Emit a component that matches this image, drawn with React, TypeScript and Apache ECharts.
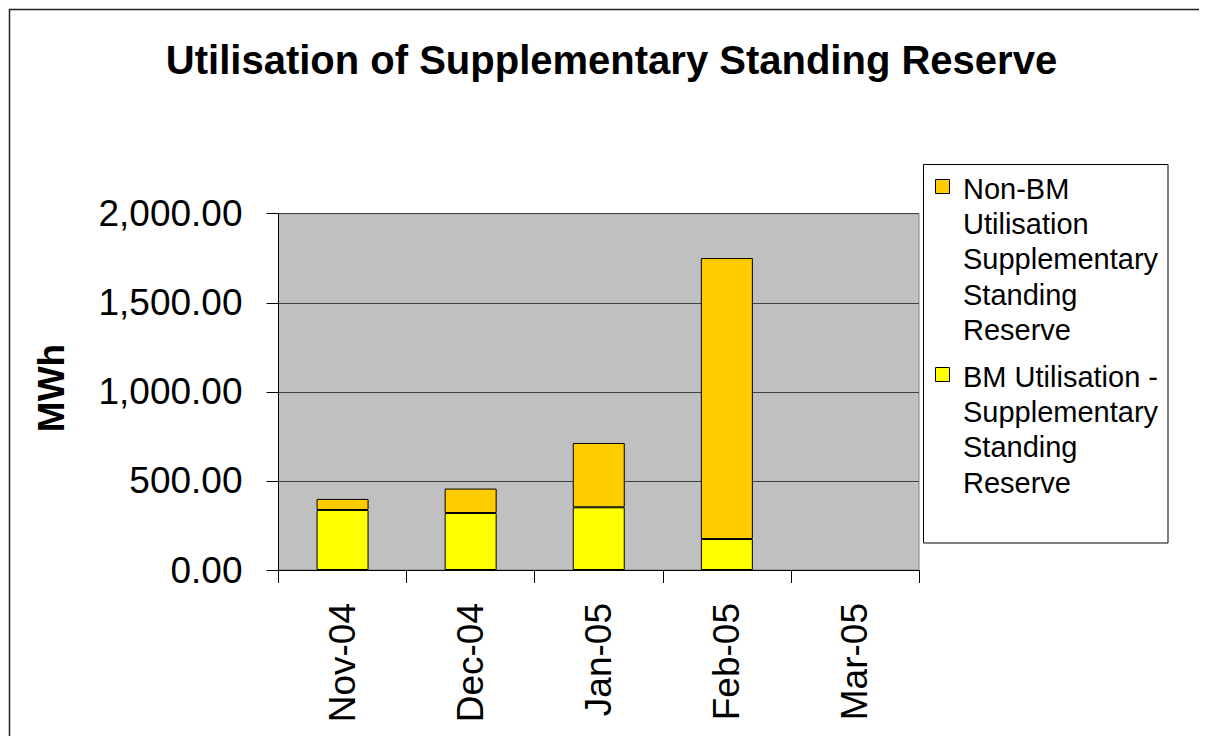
import React, { useEffect, useRef } from "react";
import * as echarts from "echarts";

const categories = ["Nov-04", "Dec-04", "Jan-05", "Feb-05", "Mar-05"];
const bmUtilisation = [337, 320, 352, 174, 0];
const nonBmUtilisation = [62, 137, 361, 1577, 0];
const seriesNames = [
  "Non-BM Utilisation Supplementary Standing Reserve",
  "BM Utilisation - Supplementary Standing Reserve",
];
const legendLines = [
  ["Non-BM", "Utilisation", "Supplementary", "Standing", "Reserve"],
  ["BM Utilisation -", "Supplementary", "Standing", "Reserve"],
];
const titleText = "Utilisation of Supplementary Standing Reserve";
const yAxisTitle = "MWh";

const FONT = "'Liberation Sans', Arial, Helvetica, sans-serif";
const ORANGE = "#FFCC00";
const YELLOW = "#FFFF00";

const hideZero = (arr: number[]) => arr.map((v) => (v === 0 ? null : v));

export default function App() {
  const ref = useRef<HTMLDivElement>(null);
  useEffect(() => {
    if (!ref.current) return;
    document.documentElement.style.overflow = "hidden";
    const chart = echarts.init(ref.current, undefined, { renderer: "svg" });
    const option: any = {
      animation: false,
      backgroundColor: "#FFFFFF",
      textStyle: { fontFamily: FONT },
      grid: {
        left: 270.5,
        top: 205.7,
        width: 640.5,
        height: 356.3,
        show: true,
        backgroundColor: "#C0C0C0",
        borderColor: "#808080",
        borderWidth: 1,
      },
      xAxis: {
        type: "category",
        data: categories,
        boundaryGap: true,
        axisLine: { show: true, lineStyle: { color: "#000", width: 1 } },
        axisTick: { show: true, length: 13, lineStyle: { color: "#000" }, alignWithLabel: false },
        axisLabel: {
          rotate: 90,
          margin: 33,
          fontSize: 37,
          color: "#000",
          fontFamily: FONT,
          interval: 0,
        },
        splitLine: { show: false },
      },
      yAxis: {
        type: "value",
        min: 0,
        max: 2000,
        interval: 500,
        axisLine: { show: true, lineStyle: { color: "#000", width: 1 } },
        axisTick: { show: true, length: 12, lineStyle: { color: "#000" } },
        axisLabel: {
          margin: 36,
          fontSize: 37,
          color: "#000",
          fontFamily: FONT,
          formatter: (v: number) =>
            v.toLocaleString("en-US", { minimumFractionDigits: 2, maximumFractionDigits: 2 }),
        },
        splitLine: { show: true, lineStyle: { color: "#404040", width: 1 } },
      },
      series: [
        {
          name: seriesNames[1],
          type: "bar",
          stack: "total",
          data: hideZero(bmUtilisation),
          barWidth: 52,
          itemStyle: { color: YELLOW, borderColor: "#000", borderWidth: 1 },
        },
        {
          name: seriesNames[0],
          type: "bar",
          stack: "total",
          data: hideZero(nonBmUtilisation),
          barWidth: 52,
          itemStyle: { color: ORANGE, borderColor: "#000", borderWidth: 1 },
        },
      ],
      graphic: [
        {
          type: "polyline",
          silent: true,
          shape: { points: [[1.5, 1000], [1.5, 1.5], [1199, 1.5]] },
          style: { fill: "none", stroke: "#222", lineWidth: 1.5 },
          z: 100,
        },
        {
          type: "text",
          x: 603.5,
          y: 52,
          style: {
            text: titleText,
            font: `bold 40px ${FONT}`,
            fill: "#000",
            align: "center",
            verticalAlign: "middle",
          },
        },
        {
          type: "text",
          x: 43,
          y: 380,
          rotation: Math.PI / 2,
          style: {
            text: yAxisTitle,
            font: `bold 37px ${FONT}`,
            fill: "#000",
            align: "center",
            verticalAlign: "middle",
          },
        },
        {
          type: "rect",
          shape: { x: 915.5, y: 156.5, width: 244.5, height: 378.5 },
          style: { fill: "#FFFFFF", stroke: "#000", lineWidth: 1 },
        },
        {
          type: "rect",
          shape: { x: 927.5, y: 171.5, width: 14, height: 14 },
          style: { fill: ORANGE, stroke: "#000", lineWidth: 1 },
        },
        {
          type: "text",
          x: 955,
          y: 163.4,
          style: {
            text: legendLines[0].join("\n"),
            font: `29px ${FONT}`,
            lineHeight: 35.2,
            fill: "#000",
            align: "left",
            verticalAlign: "top",
          },
        },
        {
          type: "rect",
          shape: { x: 927.5, y: 359.5, width: 14, height: 14 },
          style: { fill: YELLOW, stroke: "#000", lineWidth: 1 },
        },
        {
          type: "text",
          x: 955,
          y: 351.4,
          style: {
            text: legendLines[1].join("\n"),
            font: `29px ${FONT}`,
            lineHeight: 35.2,
            fill: "#000",
            align: "left",
            verticalAlign: "top",
          },
        },
      ],
    };
    chart.setOption(option);
    return () => chart.dispose();
  }, []);
  return <div ref={ref} style={{ width: 1199, height: 728, overflow: "hidden" }} />;
}
